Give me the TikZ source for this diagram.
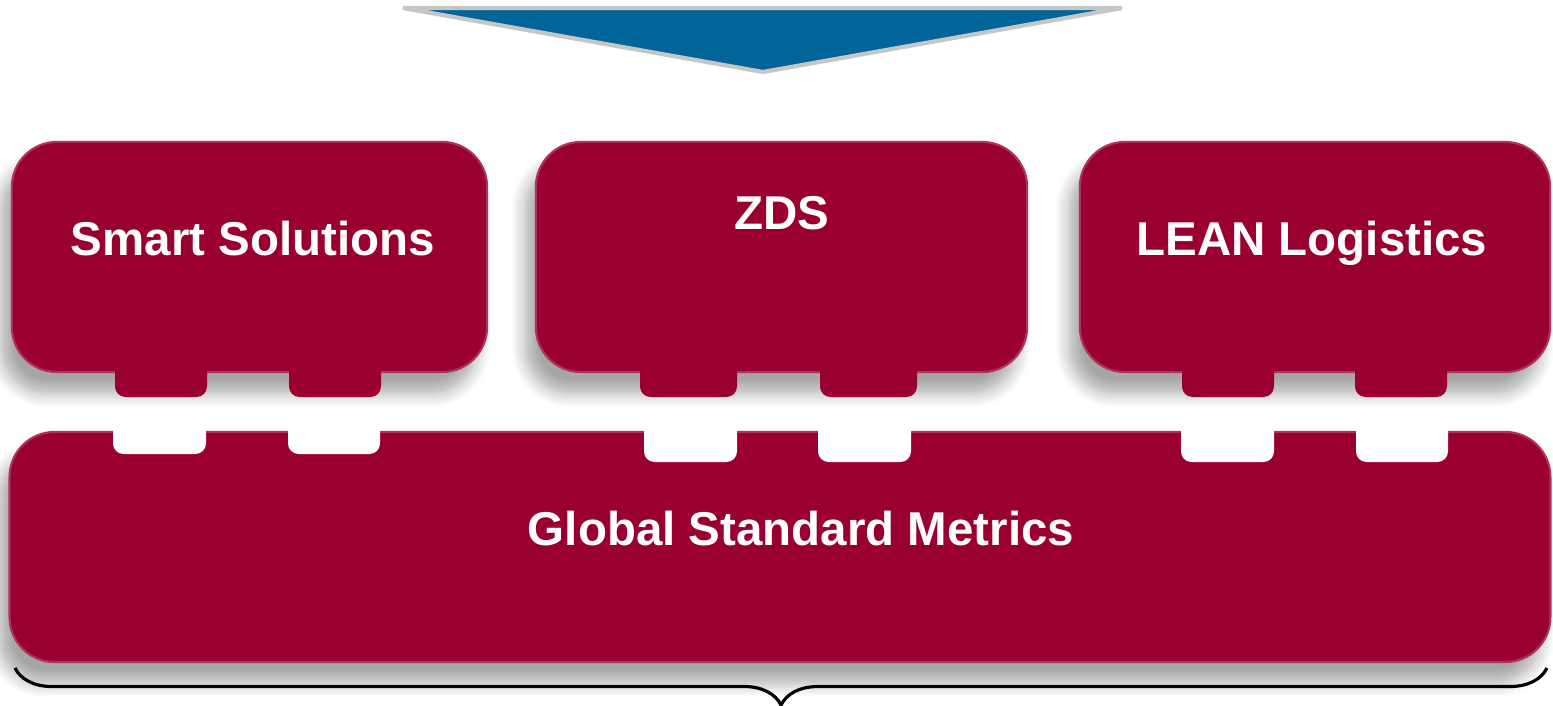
\documentclass[tikz,border=0pt]{standalone}
\usepackage{fontspec}
\setmainfont{Liberation Sans}
\usepackage{tikz}
\usetikzlibrary{calc,positioning,shapes,shadows.blur,decorations.pathreplacing}
\definecolor{wine}{RGB}{153,0,48}
\definecolor{arrowblue}{RGB}{0,102,153}
\tikzset{
block/.style={fill=wine, draw=wine!80!white, line width=0.6pt, rounded corners=0.45cm,
  blur shadow={shadow xshift=-3pt, shadow yshift=-6pt, shadow blur steps=8,
  shadow blur radius=4pt, shadow opacity=35}},
txt/.style={text=white, font=\bfseries\fontsize{13.5}{16}\selectfont, anchor=base}
}

\begin{document}
\begin{tikzpicture}[x=0.01cm, y=-0.01cm]
  \useasboundingbox (0,0) rectangle (1553,706);
  \coordinate (L) at (403,8);
  \coordinate (R) at (1122,8);
  \coordinate (T) at (763,72);
  \draw[fill=arrowblue, draw=gray!45, line width=1.2pt] (L) -- (R) -- (T) -- cycle;
  % bottom bar
  \node[block, minimum width=15.4cm, minimum height=2.3cm] (gsm) at (780,547) {};
  \foreach \x/\w/\d in {113/93/454, 288/92/454, 644/93/462, 818/93/462, 1181/93/462, 1356/92/462}
    \fill[white] (\x,428) [rounded corners=3pt] -- (\x,\d) -- (\x+\w,\d) [sharp corners] -- (\x+\w,428) -- cycle;
  % top blocks
  \node[block, minimum width=4.75cm, minimum height=2.3cm] (smart) at (249.5,257) {};
  \node[block, minimum width=4.91cm, minimum height=2.3cm] (zds) at (781.5,257) {};
  \node[block, minimum width=4.70cm, minimum height=2.3cm] (lean) at (1315,257) {};
  \foreach \x/\w in {115/92, 289/92, 640/97, 820/97, 1182/92, 1355/92}
    \fill[wine] (\x,365) [rounded corners=3pt] -- (\x,397) -- (\x+\w,397) [sharp corners] -- (\x+\w,365) -- cycle;
  \node[txt] (smart-txt) at (253,255) {Smart Solutions};
  \node[txt] (zds-txt) at (782,229) {ZDS};
  \node[txt] (lean-txt) at (1312,255) {LEAN Logistics};
  \node[txt] (gsm-txt) at (801,545) {Global Standard Metrics};
  % brace
  \coordinate (b1) at (15,668);
  \coordinate (b2) at (1547,668);
  \draw[decorate, decoration={brace, mirror, amplitude=0.37cm}, line width=0.9pt] (b1) -- (b2);
\end{tikzpicture}
\end{document}
